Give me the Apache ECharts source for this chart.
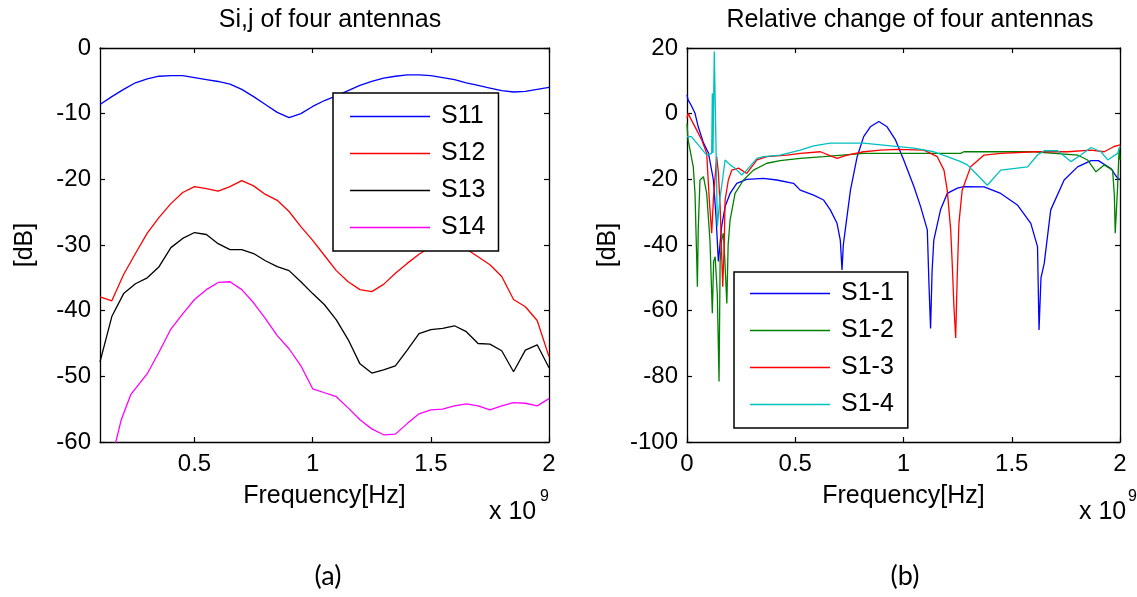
<!DOCTYPE html>
<html><head><meta charset="utf-8">
<script src="https://cdn.jsdelivr.net/npm/echarts@6/dist/echarts.min.js"></script>
<style>html,body{margin:0;padding:0;background:#fff}#c{width:1137px;height:597px}</style>
</head><body><div id="c"></div>
<script>
// ---------- Chart (a): Si,j of four antennas (frequency in units of 1e9 Hz) ----------
const freqA = [0.1,0.15,0.2,0.25,0.3,0.35,0.4,0.45,0.5,0.55,0.6,0.65,0.7,0.75,0.8,0.85,0.9,0.95,1.0,1.05,1.1,1.15,1.2,1.25,1.3,1.35,1.4,1.45,1.5,1.55,1.6,1.65,1.7,1.75,1.8,1.85,1.9,1.95,2.0];
const s11 = [-8.6,-7.4,-6.3,-5.3,-4.7,-4.3,-4.2,-4.2,-4.5,-4.8,-5.1,-5.5,-6.3,-7.4,-8.6,-9.8,-10.6,-10.0,-8.9,-8.0,-7.3,-6.5,-5.7,-5.1,-4.6,-4.3,-4.1,-4.1,-4.2,-4.5,-4.8,-5.3,-5.7,-6.1,-6.5,-6.7,-6.6,-6.3,-6.0];
const s12 = [-37.9,-38.5,-34.5,-31.3,-28.2,-25.8,-23.7,-22.0,-21.1,-21.4,-21.8,-21.1,-20.2,-21.0,-22.3,-23.2,-24.9,-27.2,-29.3,-31.6,-33.9,-35.6,-36.8,-37.1,-36.0,-34.3,-32.8,-31.4,-30.3,-29.6,-29.8,-30.6,-31.8,-33.0,-34.8,-38.3,-39.4,-41.5,-47.0];
const s13 = [-47.8,-40.9,-37.4,-35.9,-35.0,-33.3,-30.4,-29.0,-28.1,-28.4,-29.8,-30.7,-30.7,-31.3,-32.4,-33.3,-33.9,-35.6,-37.4,-39.1,-41.4,-44.4,-48.1,-49.5,-49.0,-48.4,-46.0,-43.5,-42.9,-42.7,-42.3,-43.2,-45.0,-45.1,-46.1,-49.3,-46.0,-45.2,-48.7];
const freqS14 = [0.16,0.19,0.23,0.3,0.35,0.4,0.45,0.5,0.55,0.6,0.65,0.7,0.75,0.8,0.85,0.9,0.95,1.0,1.05,1.1,1.15,1.2,1.25,1.3,1.35,1.4,1.45,1.5,1.55,1.6,1.65,1.7,1.75,1.8,1.85,1.9,1.95,2.0];
const s14 = [-61,-56.6,-52.8,-49.6,-46.3,-42.8,-40.5,-38.3,-36.8,-35.7,-35.6,-36.8,-38.8,-41.2,-43.8,-45.8,-48.4,-51.9,-52.5,-53.1,-54.8,-56.6,-58.0,-58.9,-58.8,-57.2,-55.7,-55.1,-55.0,-54.5,-54.2,-54.5,-55.1,-54.5,-54.0,-54.1,-54.5,-53.4];
const namesA = ['S11','S12','S13','S14'];
const xTicksA = [0.5,1,1.5,2];

// ---------- Chart (b): Relative change of four antennas ----------
const f11 = [0,0.005,0.02,0.037,0.052,0.076,0.099,0.122,0.134,0.145,0.152,0.16,0.176,0.199,0.23,0.276,0.353,0.415,0.492,0.523,0.585,0.631,0.662,0.693,0.708,0.716,0.722,0.731,0.755,0.786,0.816,0.847,0.886,0.924,0.963,1.001,1.048,1.079,1.11,1.117,1.125,1.132,1.14,1.171,1.202,1.249,1.279,1.372,1.449,1.526,1.588,1.619,1.626,1.635,1.65,1.68,1.742,1.804,1.866,1.9,1.958,1.989,2.0];
const r11 = [5.7,4.2,2.5,0.1,-4,-8.9,-12,-20.2,-31.4,-45,-40,-34.4,-28.3,-24.3,-21.2,-20,-19.7,-20.2,-21.2,-23.3,-24.8,-26.3,-29.3,-33.4,-38.5,-47.6,-40,-35.4,-23.3,-13.1,-7,-4,-2.4,-4,-8,-14.1,-22.2,-28.3,-35.4,-50.7,-65.4,-48,-38.5,-29.3,-24.3,-22.7,-22.2,-22.3,-24.3,-27.8,-33.4,-40.5,-65.9,-50,-45.6,-29.3,-20.2,-16.2,-14.3,-14.3,-16.7,-19.7,-20];
const f12 = [0,0.005,0.014,0.029,0.037,0.045,0.048,0.052,0.06,0.076,0.091,0.106,0.117,0.123,0.13,0.14,0.148,0.153,0.16,0.168,0.175,0.184,0.19,0.199,0.222,0.261,0.307,0.369,0.43,0.523,0.631,0.816,0.971,1.264,1.279,1.603,1.804,1.85,1.889,1.927,1.966,1.974,1.978,1.983,1.989,1.996,2.0];
const r12 = [-3,-8,-11,-16.2,-24.3,-44.6,-52.7,-35,-20.2,-19.2,-24.3,-38.5,-60.8,-45,-43.6,-55,-81.6,-45,-38.5,-36.4,-45,-57.8,-40,-32.4,-24.3,-20.2,-17.2,-15.1,-14.3,-13.6,-13.1,-12.1,-12.1,-12.1,-11.6,-11.6,-12.6,-14.1,-17.7,-15.6,-17.2,-25,-36.4,-30,-22.2,-10.5,-14];
const f13 = [0,0.005,0.02,0.045,0.068,0.091,0.103,0.114,0.122,0.137,0.145,0.153,0.165,0.172,0.176,0.191,0.207,0.238,0.276,0.323,0.369,0.462,0.523,0.616,0.693,0.74,0.816,0.894,0.971,1.094,1.156,1.187,1.202,1.218,1.225,1.233,1.241,1.248,1.256,1.271,1.31,1.372,1.449,1.603,1.758,1.866,1.927,1.973,2.0];
const r13 = [-1.4,0.1,-1.9,-5,-8,-12.1,-26.3,-36.4,-26,-13.1,-18,-28.3,-52.7,-40,-26.3,-20.2,-17.2,-16.6,-18.2,-14.1,-13.1,-12.6,-12.1,-11.6,-13.6,-12.6,-11.6,-11.1,-10.9,-11.1,-13.1,-17.2,-23.3,-35.4,-45.6,-58.8,-68.3,-50,-33.4,-23.3,-16.2,-12.6,-12.1,-11.6,-11.6,-11.1,-11.6,-10,-9.5];
const f14 = [0,0.02,0.06,0.091,0.114,0.117,0.12,0.126,0.134,0.14,0.153,0.164,0.176,0.199,0.222,0.253,0.276,0.323,0.353,0.43,0.523,0.585,0.662,0.816,0.894,1.048,1.14,1.202,1.264,1.295,1.341,1.387,1.449,1.573,1.619,1.65,1.712,1.773,1.819,1.866,1.912,1.943,1.989,2.0];
const r14 = [-7,-7,-10.1,-12.6,-12.1,6.2,-12,18.9,-10,-34.4,-25.3,-20.2,-14.1,-15.6,-16.6,-18.7,-17.2,-13.6,-13.1,-12.6,-11.1,-9.8,-9,-9,-9.5,-10.5,-11.6,-13.1,-14.6,-15.6,-18.7,-21.8,-17.2,-16.2,-12.6,-11.3,-11.3,-14.6,-12.6,-10.3,-11.6,-14.1,-12.1,-10];
const namesB = ['S1-1','S1-2','S1-3','S1-4'];

// ---------- styling ----------
const FONT = '"Liberation Sans", Arial, sans-serif';
const colorsA = ['#0000ff','#ff0000','#000000','#ff00ff'];
const colorsB = ['#0000ff','#008000','#ff0000','#00bfbf'];
const zip = (xs, ys) => xs.map((x, i) => [x, ys[i]]);
const fmt = v => String(Math.round(v * 100) / 100);
const line = {color:'#000', width:1.3};
const tick = {show:true, inside:true, length:5, lineStyle:{color:'#000', width:1.2}};

function xAx(grid, pos, min, max, opts) {
  const a = {gridIndex:grid, type:'value', position:pos, min:min, max:max,
    axisLine:{show:true, onZero:false, lineStyle:line},
    axisTick:Object.assign({}, tick), splitLine:{show:false},
    axisLabel:{show:pos==='bottom', color:'#000', fontSize:24, fontFamily:FONT, margin:10, formatter:fmt, hideOverlap:false}};
  if (opts.interval) a.interval = opts.interval;
  if (opts.custom) { a.axisTick.customValues = opts.custom; a.axisLabel.customValues = opts.custom; }
  if (pos === 'bottom') { a.name = 'Frequency[Hz]'; a.nameLocation = 'middle'; a.nameGap = 42;
    a.nameTextStyle = {fontSize:25, fontFamily:FONT, color:'#000'}; }
  return a;
}
function yAx(grid, pos, min, max, interval, gap) {
  const a = {gridIndex:grid, type:'value', position:pos, min:min, max:max, interval:interval,
    axisLine:{show:true, onZero:false, lineStyle:line},
    axisTick:Object.assign({}, tick), splitLine:{show:false},
    axisLabel:{show:pos==='left', color:'#000', fontSize:24, fontFamily:FONT, margin:9}};
  if (pos === 'left') { a.name = '[dB]'; a.nameLocation = 'middle'; a.nameRotate = 90; a.nameGap = gap;
    a.nameTextStyle = {fontSize:25, fontFamily:FONT, color:'#000'}; }
  return a;
}
function ser(name, data, color, xi, yi) {
  return {type:'line', name:name, data:data, xAxisIndex:xi, yAxisIndex:yi, symbol:'none', showSymbol:false,
    lineStyle:{color:color, width:1.3}, itemStyle:{color:color}, clip:true, animation:false};
}
function legend(names, left, top, pad) {
  return {data:names, orient:'vertical', left:left, top:top, icon:'rect', itemWidth:80, itemHeight:1.6, itemGap:12,
    padding:pad, borderColor:'#000', borderWidth:1.5, backgroundColor:'#fff', selectedMode:false,
    textStyle:{fontSize:25, fontFamily:FONT, color:'#000', padding:[0,0,0,6]}};
}
const seriesA = [zip(freqA, s11), zip(freqA, s12), zip(freqA, s13), zip(freqS14, s14)];
const seriesB = [zip(f11, r11), zip(f12, r12), zip(f13, r13), zip(f14, r14)];

const option = {
  animation:false,
  backgroundColor:'#fff',
  title:[
    {text:'Si,j of four antennas', left:325, top:3, textAlign:'center', textStyle:{fontSize:25, fontWeight:'normal', fontFamily:FONT, color:'#000'}},
    {text:'Relative change of four antennas', left:905, top:3, textAlign:'center', textStyle:{fontSize:25, fontWeight:'normal', fontFamily:FONT, color:'#000'}}
  ],
  grid:[
    {left:100, top:48, width:449, height:394},
    {left:687, top:48, width:433, height:394}
  ],
  xAxis:[
    xAx(0,'bottom',0.1,2,{custom:xTicksA}),
    xAx(0,'top',0.1,2,{custom:xTicksA}),
    xAx(1,'bottom',0,2,{interval:0.5}),
    xAx(1,'top',0,2,{interval:0.5})
  ],
  yAxis:[
    yAx(0,'left',-60,0,10,62),
    yAx(0,'right',-60,0,10,0),
    yAx(1,'left',-100,20,20,66),
    yAx(1,'right',-100,20,20,0)
  ],
  legend:[legend(namesA,333,93,[11,13,11,17]), legend(namesB,734,272,[9,14,11,16])],
  series: namesA.map((n,i)=>ser(n, seriesA[i], colorsA[i], 0, 0))
    .concat(namesB.map((n,i)=>ser(n, seriesB[i], colorsB[i], 2, 2))),
  graphic:[
    {type:'text', x:489, y:512, style:{text:'x 10', fontSize:25, fontFamily:FONT, fill:'#000', verticalAlign:'middle'}},
    {type:'text', x:540, y:497, style:{text:'9', fontSize:16, fontFamily:FONT, fill:'#000', verticalAlign:'middle'}},
    {type:'text', x:1079, y:512, style:{text:'x 10', fontSize:25, fontFamily:FONT, fill:'#000', verticalAlign:'middle'}},
    {type:'text', x:1128, y:497, style:{text:'9', fontSize:16, fontFamily:FONT, fill:'#000', verticalAlign:'middle'}},
    {type:'text', x:328, y:576, style:{text:'(a)', fontSize:27, fontFamily:'Lato, "Open Sans", sans-serif', fill:'#000', align:'center', verticalAlign:'middle'}},
    {type:'text', x:905, y:576, style:{text:'(b)', fontSize:27, fontFamily:'Lato, "Open Sans", sans-serif', fill:'#000', align:'center', verticalAlign:'middle'}}
  ]
};
const chart = echarts.init(document.getElementById('c'), null, {renderer:'canvas'});
chart.setOption(option);
</script>
</body></html>
